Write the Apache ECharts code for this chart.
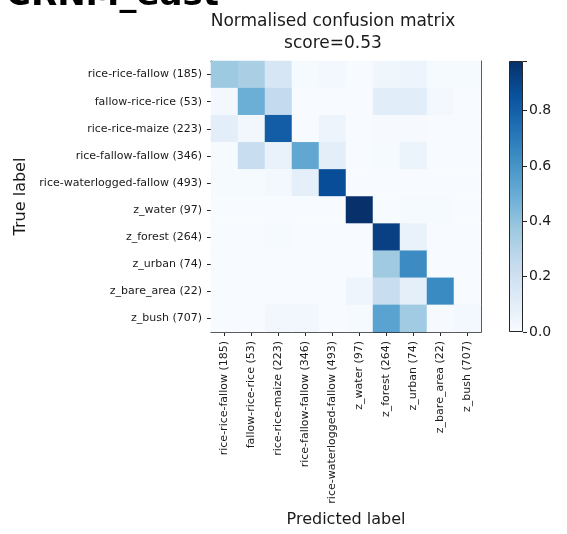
<!DOCTYPE html>
<html>
<head>
<meta charset="utf-8">
<script src="https://cdn.jsdelivr.net/npm/echarts/dist/echarts.min.js"></script>
<style>
  html, body { margin: 0; padding: 0; background: #fff; }
  #chart { width: 567px; height: 534px; }
</style>
</head>
<body>
<div id="chart"></div>
<script>
// Class names with their sample counts (rows = true class, columns = predicted class)
const classLabels = [
  'rice-rice-fallow (185)',
  'fallow-rice-rice (53)',
  'rice-rice-maize (223)',
  'rice-fallow-fallow (346)',
  'rice-waterlogged-fallow (493)',
  'z_water (97)',
  'z_forest (264)',
  'z_urban (74)',
  'z_bare_area (22)',
  'z_bush (707)'
];

// Row-normalised confusion matrix, one array per true class
const rowRiceRiceFallow    = [0.37, 0.33, 0.16, 0.01, 0.02, 0.00, 0.04, 0.05, 0.01, 0.01];
const rowFallowRiceRice    = [0.02, 0.49, 0.25, 0.00, 0.00, 0.00, 0.11, 0.11, 0.02, 0.00];
const rowRiceRiceMaize     = [0.10, 0.03, 0.81, 0.00, 0.05, 0.00, 0.005, 0.005, 0.00, 0.00];
const rowRiceFallowFallow  = [0.01, 0.23, 0.07, 0.52, 0.10, 0.00, 0.01, 0.06, 0.00, 0.00];
const rowRiceWaterlogged   = [0.01, 0.01, 0.02, 0.09, 0.87, 0.00, 0.00, 0.00, 0.00, 0.00];
const rowWater             = [0.00, 0.00, 0.00, 0.00, 0.00, 0.979, 0.00, 0.0103, 0.0103, 0.00];
const rowForest            = [0.00, 0.00, 0.01, 0.00, 0.00, 0.00, 0.92, 0.07, 0.00, 0.00];
const rowUrban             = [0.00, 0.00, 0.00, 0.00, 0.00, 0.00, 0.365, 0.635, 0.00, 0.00];
const rowBareArea          = [0.00, 0.00, 0.00, 0.00, 0.00, 0.045, 0.227, 0.091, 0.636, 0.00];
const rowBush              = [0.00, 0.00, 0.03, 0.03, 0.00, 0.01, 0.54, 0.36, 0.005, 0.02];

const matrixRows = [
  rowRiceRiceFallow, rowFallowRiceRice, rowRiceRiceMaize, rowRiceFallowFallow,
  rowRiceWaterlogged, rowWater, rowForest, rowUrban, rowBareArea, rowBush
];

// Colour bar ticks
const colorbarTicks = [0.0, 0.2, 0.4, 0.6, 0.8];

// matplotlib "Blues" colormap anchor colours
const blues = ['#f7fbff', '#deebf7', '#c6dbef', '#9ecae1', '#6baed6',
               '#4292c6', '#2171b5', '#08519c', '#08306b'];

const FONT = 'DejaVu Sans';
const INK = '#1a1a1a';
const FRAME = '#262626';

const heatData = [];
matrixRows.forEach((row, r) => {
  row.forEach((v, c) => heatData.push([c, r, v]));
});
let vmax = 0;
heatData.forEach(d => { if (d[2] > vmax) vmax = d[2]; });

const gradientStops = blues.map((c, i) => ({ offset: 1 - i / (blues.length - 1), color: c }));

const chart = echarts.init(document.getElementById('chart'), null, { renderer: 'canvas' });

const hiddenFrameAxis = {
  show: true,
  axisLine: { show: true, lineStyle: { color: FRAME, width: 1 } },
  axisTick: { show: false },
  axisLabel: { show: false },
  splitLine: { show: false }
};

chart.setOption({
  animation: false,
  backgroundColor: '#ffffff',
  textStyle: { fontFamily: FONT },
  graphic: [
    {
      type: 'text', x: 6, y: -4,
      style: {
        text: 'CRNM_east', font: 'bold 34px "DejaVu Sans"', fill: '#000',
        textAlign: 'left', textVerticalAlign: 'middle', align: 'left', verticalAlign: 'middle'
      }
    },
    {
      type: 'text', x: 333, y: 22,
      style: {
        text: 'Normalised confusion matrix', font: '17px "DejaVu Sans"', fill: INK,
        textAlign: 'center', textVerticalAlign: 'middle', align: 'center', verticalAlign: 'middle'
      }
    },
    {
      type: 'text', x: 333, y: 44,
      style: {
        text: 'score=0.53', font: '17px "DejaVu Sans"', fill: INK,
        textAlign: 'center', textVerticalAlign: 'middle', align: 'center', verticalAlign: 'middle'
      }
    }
  ],
  grid: [
    { left: 211, top: 61, width: 270, height: 271, containLabel: false },
    { left: 509, top: 61, width: 14, height: 271, containLabel: false }
  ],
  visualMap: {
    show: false,
    type: 'continuous',
    seriesIndex: 0,
    min: 0,
    max: vmax,
    inRange: { color: blues }
  },
  xAxis: [
    {
      type: 'category', gridIndex: 0, data: classLabels, position: 'bottom',
      name: 'Predicted label', nameLocation: 'middle', nameGap: 179,
      nameTextStyle: { fontFamily: FONT, fontSize: 16, color: INK },
      axisLine: { show: true, lineStyle: { color: FRAME, width: 1 } },
      axisTick: { show: true, alignWithLabel: true, interval: 0, length: 4, lineStyle: { color: FRAME } },
      axisLabel: { interval: 0, rotate: 90, margin: 9, fontFamily: FONT, fontSize: 11, color: INK },
      splitLine: { show: false }, splitArea: { show: false }
    },
    Object.assign({ type: 'category', gridIndex: 0, data: classLabels, position: 'top' }, hiddenFrameAxis),
    {
      type: 'category', gridIndex: 1, data: ['cb'],
      axisLine: { show: false }, axisTick: { show: false }, axisLabel: { show: false },
      splitLine: { show: false }
    }
  ],
  yAxis: [
    {
      type: 'category', gridIndex: 0, data: classLabels, inverse: true, position: 'left',
      name: 'True label', nameLocation: 'middle', nameGap: 182, nameRotate: 90,
      nameTextStyle: { fontFamily: FONT, fontSize: 16, color: INK },
      axisLine: { show: true, lineStyle: { color: FRAME, width: 1 } },
      axisTick: { show: true, alignWithLabel: true, interval: 0, length: 4, lineStyle: { color: FRAME } },
      axisLabel: { interval: 0, margin: 9, fontFamily: FONT, fontSize: 11, color: INK },
      splitLine: { show: false }, splitArea: { show: false }
    },
    Object.assign({ type: 'category', gridIndex: 0, data: classLabels, inverse: true, position: 'right' }, hiddenFrameAxis),
    {
      type: 'value', gridIndex: 1, position: 'right', min: 0, max: vmax,
      interval: 0.2,
      axisLine: { show: false },
      axisTick: { show: true, length: 4, inside: false, lineStyle: { color: FRAME } },
      axisLabel: {
        margin: 6, fontFamily: FONT, fontSize: 14, color: INK,
        formatter: v => (colorbarTicks.some(t => Math.abs(t - v) < 1e-9) ? v.toFixed(1) : '')
      },
      splitLine: { show: false }
    }
  ],
  series: [
    {
      type: 'heatmap',
      xAxisIndex: 0, yAxisIndex: 0,
      data: heatData,
      label: { show: false },
      emphasis: { disabled: true },
      itemStyle: { borderWidth: 0 },
      z: 1
    },
    {
      type: 'bar',
      xAxisIndex: 2, yAxisIndex: 2,
      data: [vmax],
      barWidth: '100%',
      silent: true,
      itemStyle: {
        borderColor: FRAME, borderWidth: 1,
        color: new echarts.graphic.LinearGradient(0, 0, 0, 1, gradientStops)
      }
    }
  ]
});
</script>
</body>
</html>
